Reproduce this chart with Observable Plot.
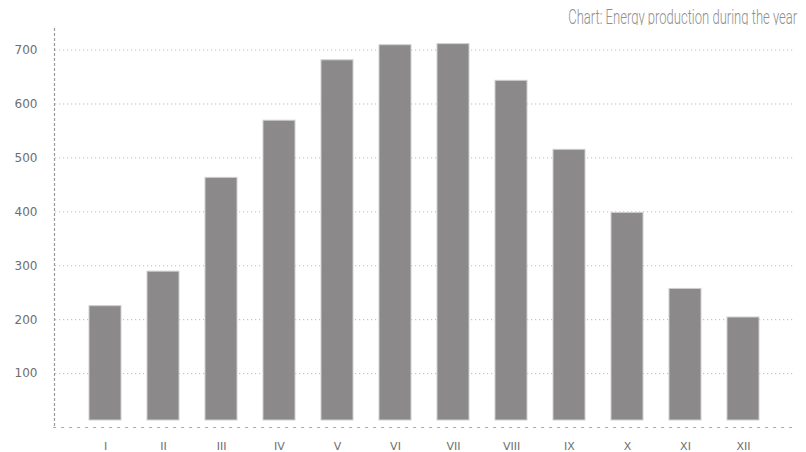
<!DOCTYPE html>
<html>
<head>
<meta charset="utf-8">
<script src="https://cdn.jsdelivr.net/npm/d3@7"></script>
<script src="https://cdn.jsdelivr.net/npm/@observablehq/plot@0.6"></script>
<style>
  body { margin: 0; background: #fff; }
  #title { height: 25px; overflow: hidden; text-align: right; padding-right: 9px;
    font-family: Roboto, sans-serif; font-weight: 300; font-size: 21px;
    line-height: 34.5px; color: #8f8f8f; white-space: nowrap; }
  #title span { display: inline-block; transform-origin: right center; }
  #chart svg { display: block; }
</style>
</head>
<body>
<div id="title"><span id="titletext">Chart: Energy production during the year</span></div>
<div id="chart"></div>
<script>
const months = ["I", "II", "III", "IV", "V", "VI", "VII", "VIII", "IX", "X", "XI", "XII"];
const energy = [225, 289, 463, 569, 681, 709, 711, 643, 515, 398, 257, 204];
const yTicks = [100, 200, 300, 400, 500, 600, 700];

const data = months.map((m, i) => ({month: m, value: energy[i]}));

const chart = Plot.plot({
  width: 806,
  height: 427,
  marginTop: 3,
  marginBottom: 25,
  marginLeft: 54,
  marginRight: 13,
  style: {fontFamily: "DejaVu Sans, sans-serif", fontSize: "12px", color: "#666", background: "#fff"},
  x: {domain: months, paddingInner: 0.45, paddingOuter: 0.585, label: null},
  y: {domain: [0, 740], label: null},
  marks: [
    Plot.ruleY(yTicks, {stroke: "#bbb", strokeDasharray: "1.2,2.8", insetLeft: 1}),
    Plot.frame({anchor: "left", stroke: "#999", strokeDasharray: "2,3", strokeWidth: 1.2}),
    Plot.ruleY([0], {stroke: "#aaa", strokeDasharray: "3,5", strokeWidth: 1.2, insetLeft: -1}),
    Plot.barY(data, {x: "month", y: "value", fill: "#8b8989", stroke: "#cfcfcf", strokeWidth: 1, insetBottom: 7}),
    Plot.axisY({ticks: yTicks, tickSize: 0, tickPadding: 17, fill: "#6e6e6e", fontSize: 12, style: {letterSpacing: "0.8px"}}),
    Plot.axisX({tickSize: 0, tickPadding: 15, fill: "#6e6e6e", fontSize: 11, style: {letterSpacing: "0.8px"}})
  ]
});
document.getElementById("chart").appendChild(chart);

const t = document.getElementById("titletext");
const w = t.getBoundingClientRect().width;
t.style.transform = `scaleX(${229 / w})`;
</script>
</body>
</html>
